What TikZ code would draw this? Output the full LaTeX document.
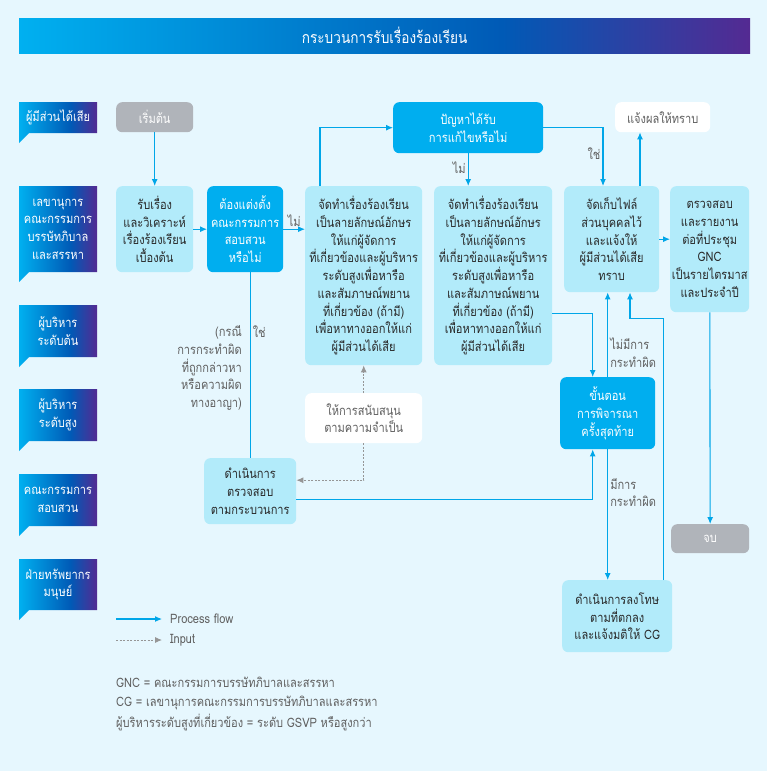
\documentclass[tikz,border=0pt]{standalone}
\usepackage{fontspec}
\setmainfont[Script=Thai, FakeStretch=0.85]{Loma}
\usetikzlibrary{arrows.meta}

\definecolor{bgcol}{RGB}{230,247,254}
\definecolor{gcyan}{RGB}{0,176,240}
\definecolor{gblue}{RGB}{0,90,182}
\definecolor{gpurple}{RGB}{84,42,146}
\definecolor{boxlight}{RGB}{178,235,250}
\definecolor{boxdark}{RGB}{0,174,239}
\definecolor{boxgray}{RGB}{176,180,186}
\definecolor{flowblue}{RGB}{0,166,232}
\definecolor{inputgray}{RGB}{150,150,150}
\definecolor{txtdark}{RGB}{40,40,40}
\definecolor{txtgray}{RGB}{95,95,95}

\pgfdeclarehorizontalshading{headshade}{100bp}{color(0bp)=(gcyan); color(25bp)=(gcyan); color(58bp)=(gblue); color(75bp)=(gpurple); color(100bp)=(gpurple)}

\newcommand\boxfont{\fontsize{13}{17.7}\selectfont}

\tikzset{
  box/.style={rounded corners=6pt, align=center, inner sep=0pt, anchor=north west, font=\boxfont},
  lightbox/.style={box, fill=boxlight, text=txtdark},
  darkbox/.style={box, fill=boxdark, text=white},
  graybox/.style={box, fill=boxgray, text=white},
  whitebox/.style={box, fill=white, text=txtgray},
  flow/.style={draw=flowblue, line width=1.1pt, -{Latex[length=7pt,width=6pt]}},
  inputline/.style={draw=inputgray, line width=0.9pt, dash pattern=on 2pt off 1.5pt, -{Latex[length=7pt,width=6pt]}},
  lbl/.style={text=txtgray, font=\boxfont, inner sep=2pt},
  lanetext/.style={text=white, align=center, font=\boxfont}
}

\begin{document}
\begin{tikzpicture}[x=1pt,y=-1pt]
\useasboundingbox (0,0) rectangle (767,771);
\fill[bgcol] (0,0) rectangle (767,771);

% title bar
\node[shade, shading=headshade, anchor=north west, minimum width=731pt, minimum height=35pt,
  text=white, font=\fontsize{16}{18}\selectfont] (title) at (19,18) {กระบวนการรับเรื่องร้องเรียน};

% lanes
\foreach \ytop/\ybot/\lanelabel [count=\i] in {102/133/{ผู้มีส่วนได้เสีย},
    186/272/{เลขานุการ\\คณะกรรมการ\\บรรษัทภิบาล\\และสรรหา},
    305/357/{ผู้บริหาร\\ระดับต้น}, 389/441/{ผู้บริหาร\\ระดับสูง},
    474/526/{คณะกรรมการ\\สอบสวน}, 559/610/{ฝ่ายทรัพยากร\\มนุษย์}} {
  \shade[shading=headshade] (19,\ytop) -- (97,\ytop) -- (97,\ybot) -- (29,\ybot) -- (19,\ybot+10) -- cycle;
  \node[lanetext] (lane\i) at (58,{(\ytop+\ybot)/2}) {\lanelabel};
}

% boxes
\node[graybox, minimum width=77pt, minimum height=30pt] (start) at (116,102) {เริ่มต้น};
\node[lightbox, minimum width=77pt, minimum height=86pt] (A) at (116,186)
  {รับเรื่อง\\และวิเคราะห์\\เรื่องร้องเรียน\\เบื้องต้น};
\node[darkbox, minimum width=76pt, minimum height=86pt] (B) at (207,186)
  {ต้องแต่งตั้ง\\คณะกรรมการ\\สอบสวน\\หรือไม่};
\node[lightbox, minimum width=117pt, minimum height=179pt] (C) at (305,186)
  {จัดทำเรื่องร้องเรียน\\เป็นลายลักษณ์อักษร\\ให้แก่ผู้จัดการ\\ที่เกี่ยวข้องและผู้บริหาร\\ระดับสูงเพื่อหารือ\\และสัมภาษณ์พยาน\\ที่เกี่ยวข้อง (ถ้ามี)\\เพื่อหาทางออกให้แก่\\ผู้มีส่วนได้เสีย};
\node[darkbox, minimum width=150pt, minimum height=51pt] (D) at (393,102)
  {ปัญหาได้รับ\\การแก้ไขหรือไม่};
\node[lightbox, minimum width=118pt, minimum height=179pt] (E) at (434,186)
  {จัดทำเรื่องร้องเรียน\\เป็นลายลักษณ์อักษร\\ให้แก่ผู้จัดการ\\ที่เกี่ยวข้องและผู้บริหาร\\ระดับสูงเพื่อหารือ\\และสัมภาษณ์พยาน\\ที่เกี่ยวข้อง (ถ้ามี)\\เพื่อหาทางออกให้แก่\\ผู้มีส่วนได้เสีย};
\node[lightbox, minimum width=95pt, minimum height=106pt] (F) at (564,186)
  {จัดเก็บไฟล์\\ส่วนบุคคลไว้\\และแจ้งให้\\ผู้มีส่วนได้เสีย\\ทราบ};
\node[whitebox, minimum width=95pt, minimum height=30pt] (G) at (615,102) {แจ้งผลให้ทราบ};
\node[lightbox, minimum width=79pt, minimum height=126pt] (H) at (670,186)
  {ตรวจสอบ\\และรายงาน\\ต่อที่ประชุม\\GNC\\เป็นรายไตรมาส\\และประจำปี};
\node[darkbox, minimum width=95pt, minimum height=72pt] (I) at (560,377)
  {ขั้นตอน\\การพิจารณา\\ครั้งสุดท้าย};
\node[lightbox, minimum width=92pt, minimum height=66pt] (J) at (204,458)
  {ดำเนินการ\\ตรวจสอบ\\ตามกระบวนการ};
\node[whitebox, minimum width=117pt, minimum height=50pt] (K) at (305,393)
  {ให้การสนับสนุน\\ตามความจำเป็น};
\node[lightbox, minimum width=110pt, minimum height=72pt] (L) at (562,580)
  {ดำเนินการลงโทษ\\ตามที่ตกลง\\และแจ้งมติให้ CG};
\node[graybox, minimum width=78pt, minimum height=29pt] (finish) at (671,524) {จบ};

% connectors
\draw[flow] (start) -- (A);
\draw[flow] (A) -- (B);
\draw[flow] (B.east) -- (B.east -| C.west) node[lbl, midway, above] (noC) {ไม่};
\draw[flow] ([xshift=15pt]C.north west) |- (D.west);
\draw[flow] (D.south) -- (D.south |- E.north) node[lbl, pos=0.45, left] (noE) {ไม่};
\draw[flow] (D.east) -| ([xshift=39pt]F.north west) node[lbl, pos=0.72, left] (yesF) {ใช่};
\draw[flow] ([xshift=76pt]F.north west) -- ([xshift=76pt]F.north west |- G.south);
\draw[flow] (F.east) -- (F.east -| H.west);
\draw[draw=flowblue, line width=1.1pt] (J.north |- B.south) -- (J.north) node[lbl, pos=0.32, right] (yesJ) {ใช่};
\node[lbl, align=right, anchor=east] (casenote) at (244,368)
  {(กรณี\\การกระทำผิด\\ที่ถูกกล่าวหา\\หรือความผิด\\ทางอาญา)};
\draw[flow] ([yshift=-8pt]J.east) -| ([xshift=-15pt]I.south);
\draw[inputline] (K.south) |- ([yshift=11pt]J.east);
\draw[inputline] (K) -- (C);
\draw[flow] ([yshift=-37.5pt]E.east) -| ([xshift=-15pt]I.north);
\draw[flow] (I.north) -- (I.north |- F.south) node[lbl, pos=0.29, right, align=left] (nofault) {ไม่มีการ\\กระทำผิด};
\draw[flow] (I.south) -- (I.south |- L.north) node[lbl, pos=0.33, right, align=left] (fault) {มีการ\\กระทำผิด};
\draw[flow] ([xshift=-9pt]L.north east) |- ([xshift=66pt,yshift=-26pt]F.south west) -- ([xshift=66pt]F.south west);
\draw[flow] (H) -- (finish);

% legend
\coordinate (flowstart) at (116,619);
\coordinate (inputstart) at (116,640);
\node[lbl, anchor=west] (flowtext) at (168,619) {Process flow};
\node[lbl, anchor=west] (inputtext) at (168,640) {Input};
\draw[flow, shorten >=6pt] (flowstart) -- (flowtext.west);
\draw[inputline, shorten >=6pt] (inputstart) -- (inputtext.west);

% notes
\node[lbl, anchor=west] (note1) at (114,682) {GNC = คณะกรรมการบรรษัทภิบาลและสรรหา};
\node[lbl, anchor=west] (note2) at (114,703) {CG = เลขานุการคณะกรรมการบรรษัทภิบาลและสรรหา};
\node[lbl, anchor=west] (note3) at (114,723) {ผู้บริหารระดับสูงที่เกี่ยวข้อง = ระดับ GSVP หรือสูงกว่า};
\end{tikzpicture}
\end{document}
